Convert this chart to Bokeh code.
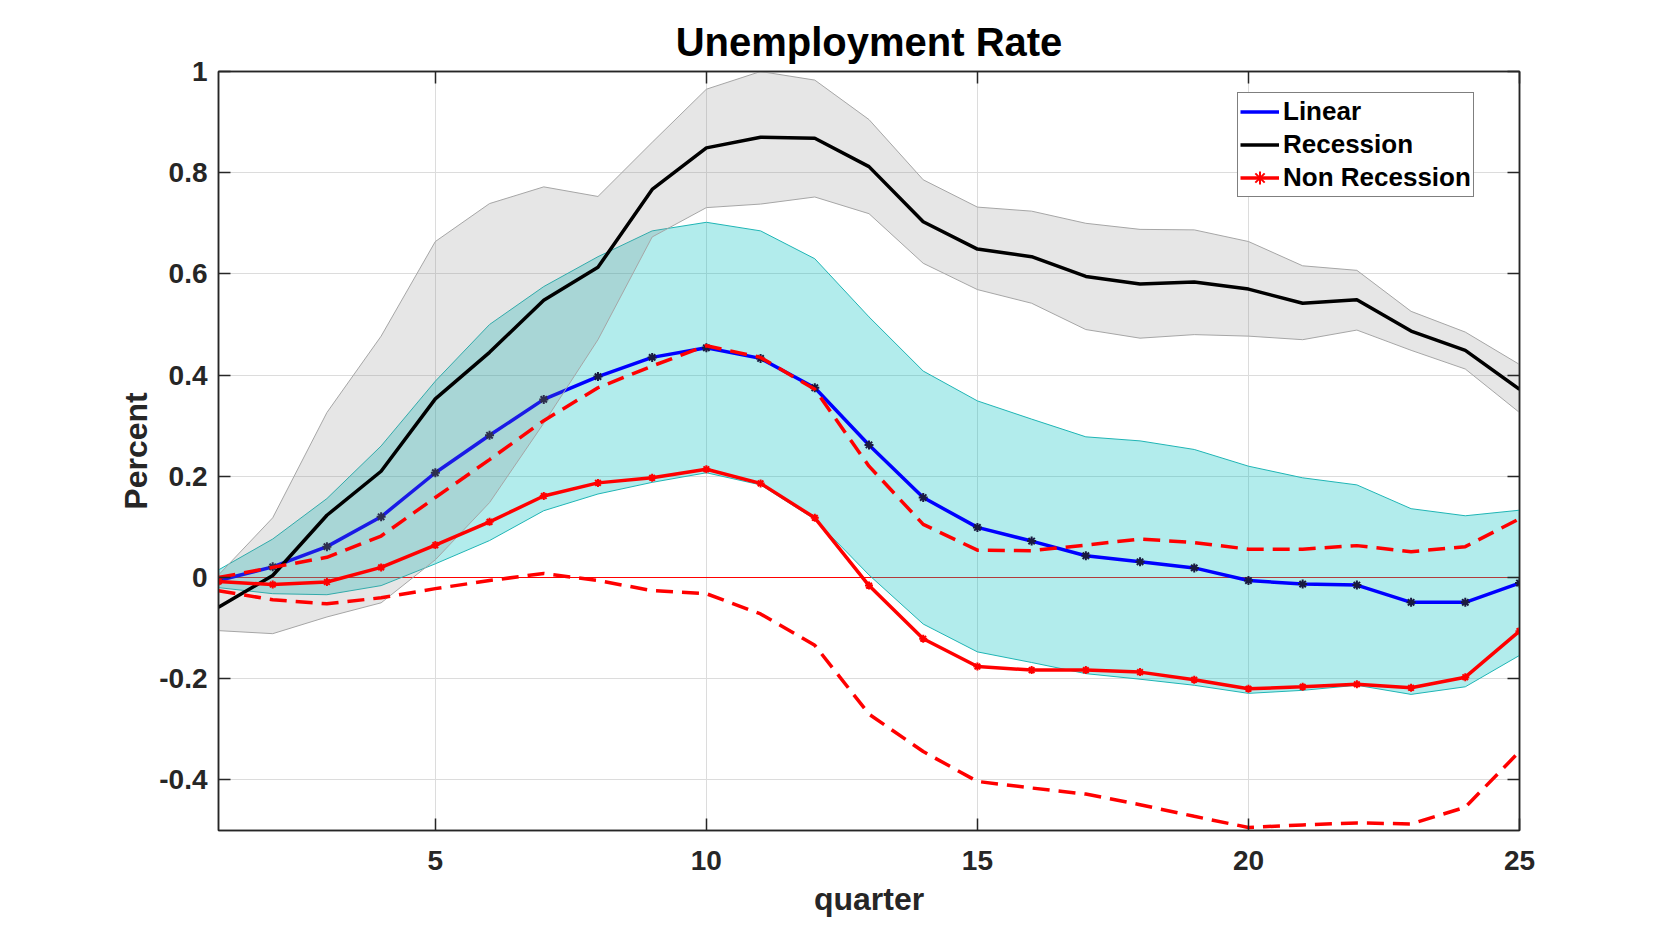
from bokeh.plotting import figure
from bokeh.models import (LinearAxis, FixedTicker, CustomJSTickFormatter,
                          Legend, LegendItem, ColumnDataSource, Range1d)
from bokeh.embed import file_html
from bokeh.resources import INLINE

# ---------------- data ----------------
quarters = list(range(1, 26))

linear = [-0.006, 0.021, 0.061, 0.120, 0.207, 0.281, 0.352, 0.397, 0.435, 0.454,
          0.433, 0.375, 0.262, 0.158, 0.099, 0.072, 0.043, 0.031, 0.019, -0.006,
          -0.013, -0.015, -0.049, -0.049, -0.011]
linear_upper = [0.015, 0.076, 0.156, 0.260, 0.388, 0.500, 0.575, 0.634, 0.685, 0.702,
                0.685, 0.630, 0.515, 0.408, 0.349, 0.313, 0.278, 0.270, 0.253, 0.220,
                0.197, 0.183, 0.136, 0.122, 0.133]
linear_lower = [-0.020, -0.032, -0.034, -0.016, 0.027, 0.073, 0.132, 0.165, 0.188, 0.207,
                0.183, 0.115, 0.005, -0.092, -0.147, -0.168, -0.190, -0.201, -0.213, -0.229,
                -0.223, -0.213, -0.231, -0.216, -0.154]

recession = [-0.059, 0.004, 0.123, 0.210, 0.353, 0.445, 0.548, 0.613, 0.767, 0.849,
             0.870, 0.868, 0.812, 0.703, 0.649, 0.634, 0.595, 0.580, 0.584, 0.570,
             0.542, 0.549, 0.487, 0.449, 0.372]
recession_upper = [0.005, 0.118, 0.326, 0.477, 0.664, 0.739, 0.772, 0.753, 0.860, 0.965,
                   1.000, 0.983, 0.905, 0.786, 0.732, 0.724, 0.700, 0.688, 0.687, 0.664,
                   0.616, 0.607, 0.526, 0.485, 0.421]
recession_lower = [-0.105, -0.111, -0.078, -0.050, 0.035, 0.148, 0.305, 0.470, 0.673, 0.731,
                   0.738, 0.752, 0.719, 0.621, 0.569, 0.542, 0.490, 0.473, 0.480, 0.477,
                   0.470, 0.489, 0.449, 0.412, 0.326]

non_recession = [-0.008, -0.014, -0.009, 0.020, 0.064, 0.110, 0.161, 0.187, 0.197, 0.214,
                 0.186, 0.118, -0.016, -0.121, -0.176, -0.183, -0.183, -0.187, -0.202, -0.220,
                 -0.216, -0.211, -0.218, -0.197, -0.106]
non_recession_upper = [0.000, 0.020, 0.040, 0.082, 0.158, 0.233, 0.310, 0.375, 0.418, 0.458,
                       0.435, 0.372, 0.220, 0.105, 0.054, 0.053, 0.064, 0.076, 0.069, 0.056,
                       0.056, 0.063, 0.051, 0.061, 0.116]
non_recession_lower = [-0.026, -0.044, -0.052, -0.040, -0.022, -0.006, 0.008, -0.006, -0.026, -0.032,
                       -0.072, -0.134, -0.270, -0.344, -0.403, -0.416, -0.428, -0.449, -0.472, -0.494,
                       -0.489, -0.485, -0.487, -0.454, -0.344]

zero_line = [0]
x_ticks = [5, 10, 15, 20, 25]
y_ticks = [-0.4, -0.2, 0, 0.2, 0.4, 0.6, 0.8, 1]

src = ColumnDataSource(dict(
    q=quarters, lin=linear, lin_hi=linear_upper, lin_lo=linear_lower,
    rec=recession, rec_hi=recession_upper, rec_lo=recession_lower,
    non=non_recession, non_hi=non_recession_upper, non_lo=non_recession_lower))

FONT = "Liberation Sans"
AX = "#262626"

p = figure(frame_width=1301, frame_height=759,
           x_range=Range1d(1, 25), y_range=Range1d(-0.5, 1),
           output_backend="svg", toolbar_location=None,
           min_border_left=218, min_border_top=71, min_border_right=140,
           min_border_bottom=5, title="Unemployment Rate")

p.title.text_font = FONT
p.title.text_font_size = "40px"
p.title.text_font_style = "bold"
p.title.text_color = "black"
p.title.align = "center"
p.title.standoff = 15

p.outline_line_color = AX
p.outline_line_width = 1.5

fmt = CustomJSTickFormatter(code="return Number(tick.toFixed(1)).toString();")
blank = CustomJSTickFormatter(code="return '';")


def style_axis(ax, ticks, show_labels):
    ax.ticker = FixedTicker(ticks=ticks)
    ax.axis_line_color = AX
    ax.axis_line_width = 1.5
    ax.major_tick_line_color = AX
    ax.major_tick_line_width = 1.5
    ax.major_tick_in = 12
    ax.major_tick_out = 0
    ax.minor_tick_in = 0
    ax.minor_tick_out = 0
    if show_labels:
        ax.major_label_text_font = FONT
        ax.major_label_text_font_style = "bold"
        ax.major_label_text_font_size = "28px"
        ax.major_label_text_color = AX
    else:
        ax.formatter = blank
        ax.major_label_text_font_size = "0px"
        ax.major_label_standoff = 0


xa = p.xaxis[0]
ya = p.yaxis[0]
style_axis(xa, x_ticks, True)
style_axis(ya, y_ticks, True)
ya.formatter = fmt
xa.major_label_standoff = 20
ya.major_label_standoff = 11
xa.axis_label = "quarter"
ya.axis_label = "Percent"
for ax in (xa, ya):
    ax.axis_label_text_font = FONT
    ax.axis_label_text_font_style = "bold"
    ax.axis_label_text_font_size = "32px"
    ax.axis_label_text_color = AX
xa.axis_label_standoff = 8
ya.axis_label_standoff = 2

top_ax = LinearAxis()
style_axis(top_ax, x_ticks, False)
p.add_layout(top_ax, "above")
right_ax = LinearAxis()
style_axis(right_ax, y_ticks, False)
p.add_layout(right_ax, "right")

p.xgrid.ticker = FixedTicker(ticks=x_ticks)
p.ygrid.ticker = FixedTicker(ticks=y_ticks)
for g in (p.xgrid[0], p.ygrid[0]):
    g.grid_line_color = "#dcdcdc"
    g.grid_line_width = 1

# zero reference line (drawn first, beneath the bands)
p.hspan(y=zero_line, line_color="#ff0000", line_width=1)

# Linear band and line
p.varea(x="q", y1="lin_lo", y2="lin_hi", source=src, fill_color="#00bfbf", fill_alpha=0.3)
p.line("q", "lin_hi", source=src, line_color="#1fb5b5", line_width=1)
p.line("q", "lin_lo", source=src, line_color="#1fb5b5", line_width=1)
blue_line = p.line("q", "lin", source=src, line_color="#0000ff", line_width=3.5)
p.scatter("q", "lin", source=src, marker="asterisk", size=9,
          line_color="#1a1a40", line_width=2)

# Recession band and line
p.varea(x="q", y1="rec_lo", y2="rec_hi", source=src, fill_color="#808080", fill_alpha=0.2)
p.line("q", "rec_hi", source=src, line_color="#a6a6a6", line_width=1)
p.line("q", "rec_lo", source=src, line_color="#a6a6a6", line_width=1)
black_line = p.line("q", "rec", source=src, line_color="#000000", line_width=3.5)

# Non recession
p.line("q", "non_hi", source=src, line_color="#ff0000", line_width=3.5, line_dash="17 9")
p.line("q", "non_lo", source=src, line_color="#ff0000", line_width=3.5, line_dash="17 9")
red_line = p.line("q", "non", source=src, line_color="#ff0000", line_width=3.5)
red_marks = p.scatter("q", "non", source=src, marker="asterisk", size=8,
                      line_color="#ff0000", line_width=2)

legend = Legend(items=[
    LegendItem(label="Linear", renderers=[blue_line]),
    LegendItem(label="Recession", renderers=[black_line]),
    LegendItem(label="Non Recession", renderers=[red_line, red_marks]),
], location=(1019, 633))
legend.border_line_color = "black"
legend.border_line_width = 1
legend.background_fill_color = "white"
legend.background_fill_alpha = 1
legend.label_text_font = FONT
legend.label_text_font_style = "bold"
legend.label_text_font_size = "26px"
legend.label_text_color = "black"
legend.glyph_width = 39
legend.glyph_height = 33
legend.label_height = 33
legend.label_standoff = 4
legend.spacing = 0
legend.padding = 2
legend.margin = 0
p.add_layout(legend)

open("out.html", "w").write(file_html(p, INLINE))
